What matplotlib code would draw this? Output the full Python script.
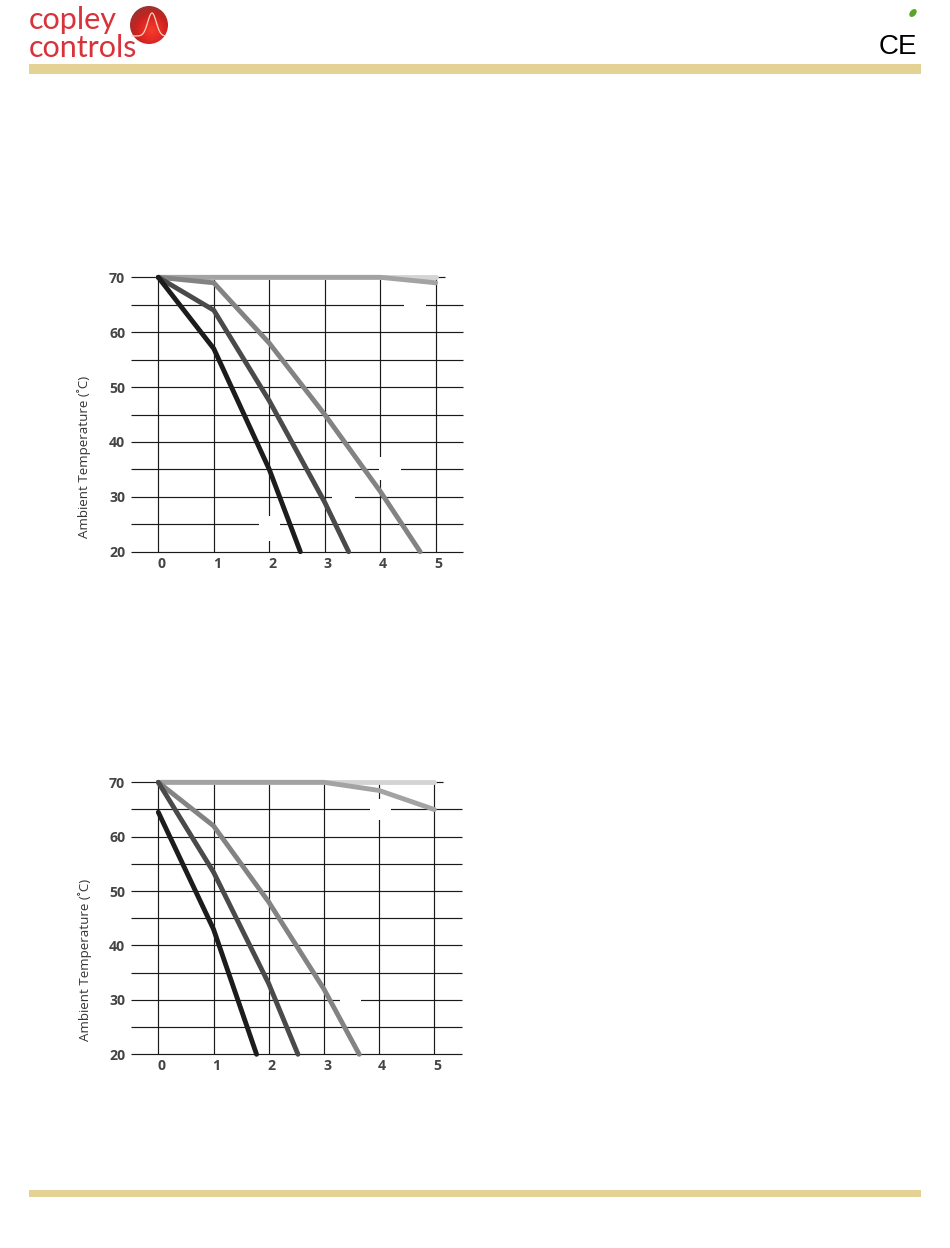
import numpy as np
import matplotlib
matplotlib.use("Agg")
import matplotlib.pyplot as plt
from matplotlib.patches import Circle, Ellipse, Rectangle
from matplotlib.transforms import offset_copy

W, H = 950, 1248
plt.rcParams['font.family'] = ['Open Sans', 'DejaVu Sans']

x_ticks = [0, 1, 2, 3, 4, 5]
y_major = [20, 30, 40, 50, 60, 70]
y_minor = [25, 35, 45, 55, 65]
y_label = "Ambient Temperature (˚C)"

# chart 1 series (x = current, y = ambient temperature)
a1_x = [0, 5];                 a1_y = [70, 70]
a2_x = [0, 4, 5];              a2_y = [70, 70, 69]
a3_x = [0, 1, 2, 3, 4, 4.72];  a3_y = [70, 69, 58, 45, 31, 20]
a4_x = [0, 1, 2, 3, 3.43];     a4_y = [70, 64, 47.5, 29, 20]
a5_x = [0, 1, 2, 2.56];        a5_y = [70, 57, 35, 20]

# chart 2 series
b1_x = [0, 5];                 b1_y = [70, 70]
b2_x = [0, 3, 4, 5];           b2_y = [70, 70, 68.5, 65]
b3_x = [0, 1, 2, 3, 3.64];     b3_y = [70, 62, 48, 32, 20]
b4_x = [0, 1, 2, 2.53];        b4_y = [70, 53.5, 33, 20]
b5_x = [0, 1, 1.78];           b5_y = [64.5, 43, 20]

colors = ['#d4d4d4', '#a3a3a3', '#838383', '#4a4a4a', '#1c1c1c']

fig = plt.figure(figsize=(W / 100, H / 100), dpi=100)
fig.patch.set_facecolor('white')


def make_chart(x_left, x_right, x0_px, x5_px, y70_px, y20_px, series, top_end, gaps, ylab_x, ylab_y):
    per_x = (x5_px - x0_px) / 5
    ax = fig.add_axes([x_left / W, 1 - y20_px / H, (x_right - x_left) / W, (y20_px - y70_px) / H])
    ax.set_xlim((x_left - x0_px) / per_x, (x_right - x0_px) / per_x)
    ax.set_ylim(20, 70)
    ax.patch.set_alpha(0)
    for s in ax.spines.values():
        s.set_visible(False)
    ax.set_xticks(x_ticks)
    ax.set_yticks(y_major)
    ax.set_xticklabels(x_ticks)
    ax.tick_params(length=0, labelsize=10.2, labelcolor='#444444')
    ax.tick_params(axis='y', pad=4)
    ax.tick_params(axis='x', pad=3.5)
    for lab in ax.get_yticklabels() + ax.get_xticklabels():
        lab.set_fontweight('bold')
    for lab in ax.get_xticklabels():
        lab.set_transform(offset_copy(lab.get_transform(), fig=fig, x=2.2, y=0, units='points'))

    lw = 0.85
    xmin, xmax = ax.get_xlim()
    for yy in y_major + y_minor:
        ax.plot([xmin, top_end if yy == 70 else xmax], [yy, yy], color='#1a1a1a', lw=lw, zorder=1,
                solid_capstyle='butt', clip_on=False)
    for xx in x_ticks:
        ax.plot([xx, xx], [20, 70], color='#1a1a1a', lw=lw, zorder=1, solid_capstyle='butt', clip_on=False)
    for gx0, gx1, gy0, gy1 in gaps:
        ax.add_patch(Rectangle((gx0, gy0), gx1 - gx0, gy1 - gy0, fc='white', ec='none', zorder=2))
    for (sx, sy), c in zip(series, colors):
        ax.plot(sx, sy, color=c, lw=3.5, zorder=3, clip_on=False, solid_capstyle='round', solid_joinstyle='round')
    fig.text(ylab_x / W, 1 - ylab_y / H, y_label, rotation=90, ha='center', va='center',
             fontsize=9.6, color='#333333')
    return ax


make_chart(130.7, 463.3, 158.3, 435.7, 277.3, 551.7,
           [(a1_x, a1_y), (a2_x, a2_y), (a3_x, a3_y), (a4_x, a4_y), (a5_x, a5_y)], 5.17,
           [(4.43, 4.82, 63, 67), (3.98, 4.37, 33, 37.3), (3.13, 3.55, 28, 32), (1.82, 2.2, 22, 26.5)], 84, 457)
make_chart(130.7, 461.7, 158.3, 434.3, 782.3, 1054.3,
           [(b1_x, b1_y), (b2_x, b2_y), (b3_x, b3_y), (b4_x, b4_y), (b5_x, b5_y)], 5.16,
           [(3.83, 4.22, 63, 67), (3.3, 3.68, 28, 32)], 85, 960)

# page furniture in pixel coordinates
deco = fig.add_axes([0, 0, 1, 1], zorder=-1)
deco.axis('off')
band = '#e3d294'
deco.add_patch(Rectangle((29, 64), 892, 10, fc=band, ec='none'))
deco.add_patch(Rectangle((29, 1190), 892, 7, fc=band, ec='none'))
deco.text(29, 20, "copley", color='#d8323a', fontsize=22, family='Lato', va='center', ha='left')
deco.text(29, 48, "controls", color='#d8323a', fontsize=22, family='Lato', va='center', ha='left')

# logo ball
yy, xx = np.mgrid[-1:1:120j, -1:1:120j]
grad = np.clip(np.hypot(xx - 0.15, yy - 0.3) / 1.3, 0, 1)
img = deco.imshow(grad, extent=(130, 168, 44, 6), cmap=matplotlib.colors.LinearSegmentedColormap.from_list(
    'ball', ['#f43c2c', '#e82c26', '#c8221f', '#9c3230']), zorder=2, aspect='auto')
img.set_clip_path(Circle((149, 25), 19, transform=deco.transData))
t = np.linspace(132, 165, 80)
deco.plot(t, 36 - 23 * np.exp(-((t - 152) / 6.0) ** 2), color='#f6d8c0', lw=0.9, zorder=3)

# CE mark and leaf
deco.text(898, 47.5, "CE", color='black', fontsize=20, family='Liberation Sans', ha='center', va='center')
deco.add_patch(Ellipse((913, 13), 9, 6, angle=-50, fc='#5aa428', ec='none'))

deco.set_xlim(0, W)
deco.set_ylim(H, 0)
fig.savefig('out.png', dpi=100)
